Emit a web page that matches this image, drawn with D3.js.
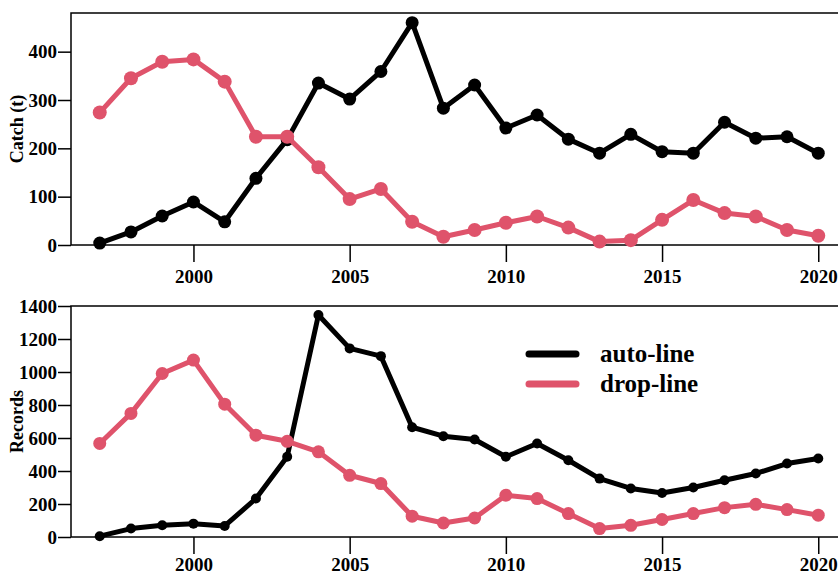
<!DOCTYPE html>
<html><head><meta charset="utf-8">
<script src="https://cdn.jsdelivr.net/npm/d3@7"></script>
<style>body{margin:0;background:#fff;}svg{display:block;}</style>
</head><body>
<svg id="c" width="838" height="577"></svg>
<script>
const years = d3.range(1997, 2021);
const catchAuto = [4,27,60,89,48,138,218,335,302,359,460,283,331,242,269,219,190,229,193,190,254,221,224,190];
const catchDrop = [274,345,379,384,338,224,224,161,95,116,48,17,31,46,59,36,7,10,52,93,66,59,31,19];
const recAuto = [5,51,71,81,67,233,486,1345,1143,1096,665,611,591,486,567,465,354,294,267,300,344,385,445,476];
const recDrop = [567,749,991,1072,805,617,580,516,374,324,126,85,115,253,233,142,51,71,106,142,178,198,166,132];
const xTicks = [2000, 2005, 2010, 2015, 2020];
const catchTicks = [0, 100, 200, 300, 400];
const recTicks = [0, 200, 400, 600, 800, 1000, 1200, 1400];
const seriesNames = ["auto-line", "drop-line"];
const colors = ["#000000", "#DF536B"];

const svg = d3.select("#c");
const font = "'Liberation Serif','Times New Roman',serif";
const x = d3.scaleLinear().domain([1996.08, 2020.92]).range([71, 847]);

function panel(top, bottom, ymax, ticks, title, auto, drop, rAuto, rDrop, xPad) {
  const y = d3.scaleLinear().domain([0, ymax]).range([bottom, top]);
  const g = svg.append("g");
  g.append("rect").attr("x", x.range()[0]).attr("y", top)
    .attr("width", x.range()[1] - x.range()[0]).attr("height", bottom - top)
    .attr("fill", "none").attr("stroke", "#000").attr("stroke-width", 1.5);
  const ya = g.append("g").attr("transform", `translate(${x.range()[0]},0)`)
    .call(d3.axisLeft(y).tickValues(ticks).tickSize(13).tickPadding(1).tickFormat(d3.format("d")));
  ya.select(".domain").remove();
  ya.selectAll("line").attr("stroke", "#000").attr("stroke-width", 1.5);
  ya.selectAll("text").attr("font-family", font).attr("font-weight", "bold")
    .attr("font-size", 19).attr("fill", "#000");
  const xa = g.append("g").attr("transform", `translate(0,${bottom})`)
    .call(d3.axisBottom(x).tickValues(xTicks).tickSize(17).tickPadding(xPad).tickFormat(d3.format("d")));
  xa.select(".domain").remove();
  xa.selectAll("line").attr("stroke", "#000").attr("stroke-width", 1.5);
  xa.selectAll("text").attr("font-family", font).attr("font-weight", "bold")
    .attr("font-size", 19).attr("fill", "#000");
  g.append("text").attr("transform", `translate(23,${(top + bottom) / 2}) rotate(-90)`)
    .attr("text-anchor", "middle").attr("font-family", font).attr("font-weight", "bold")
    .attr("font-size", 18).text(title);
  const line = d3.line().x((d, i) => x(years[i])).y(d => y(d));
  [[auto, colors[0], rAuto], [drop, colors[1], rDrop]].forEach(([vals, col, r]) => {
    g.append("path").datum(vals).attr("d", line).attr("fill", "none")
      .attr("stroke", col).attr("stroke-width", 5).attr("stroke-linejoin", "round");
    g.selectAll(null).data(vals).enter().append("circle")
      .attr("cx", (d, i) => x(years[i])).attr("cy", d => y(d)).attr("r", r).attr("fill", col);
  });
  return y;
}

panel(13, 245, 480, catchTicks, "Catch (t)", catchAuto, catchDrop, 6.5, 7, 8);
panel(306, 537, 1400, recTicks, "Records", recAuto, recDrop, 5, 6.5, 4);

const lg = svg.append("g");
seriesNames.forEach((name, i) => {
  const yy = 354 + i * 30;
  lg.append("line").attr("x1", 529).attr("x2", 576).attr("y1", yy).attr("y2", yy)
    .attr("stroke", colors[i]).attr("stroke-width", 7).attr("stroke-linecap", "round");
  lg.append("text").attr("x", 600).attr("y", yy).attr("dy", "0.33em")
    .attr("font-family", font).attr("font-weight", "bold").attr("font-size", 25).text(name);
});
</script>
</body></html>
